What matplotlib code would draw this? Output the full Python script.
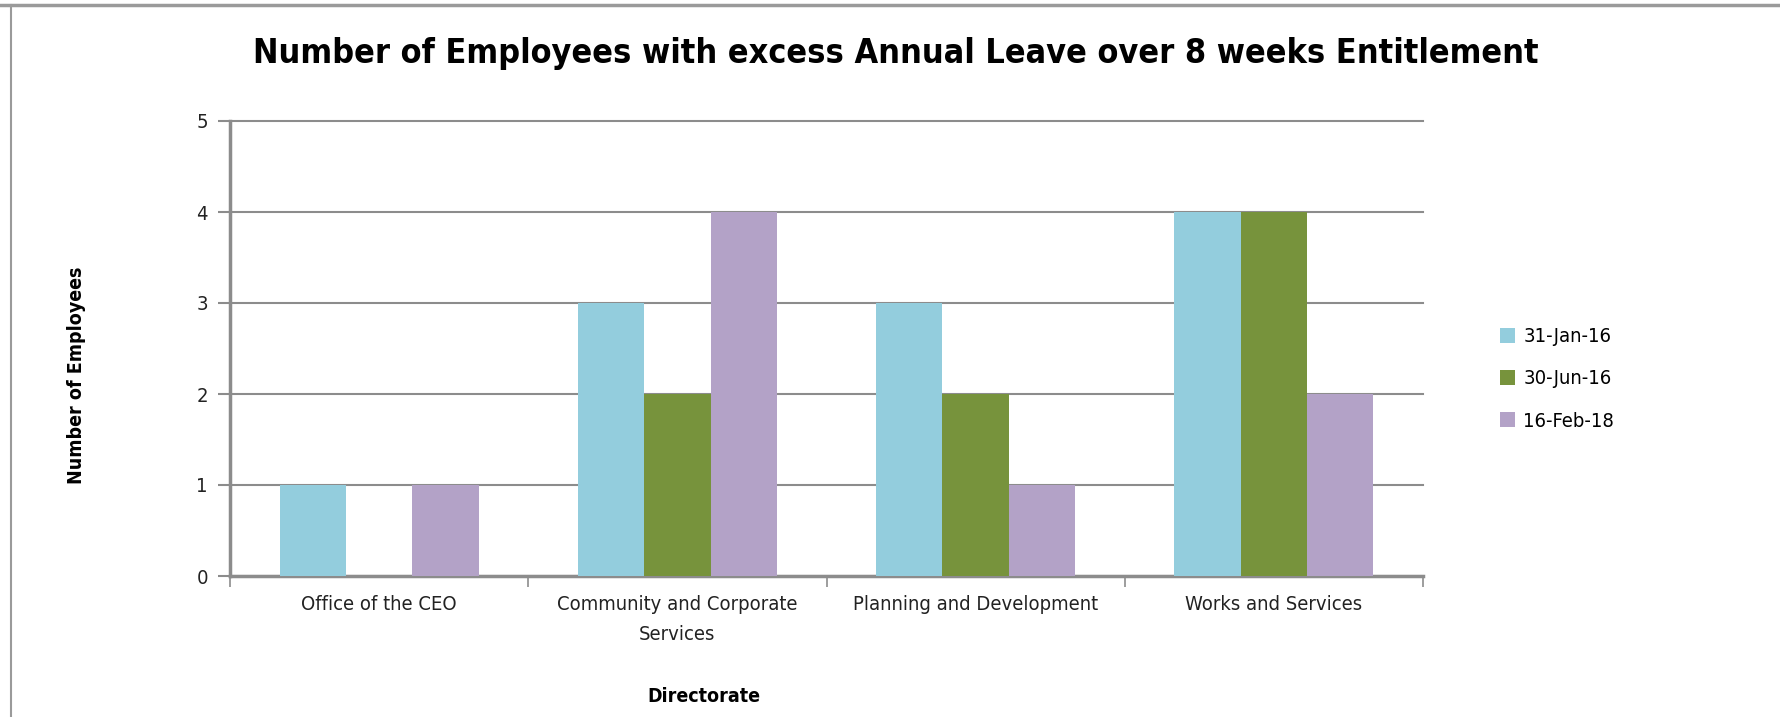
import numpy as np
import matplotlib.pyplot as plt
from matplotlib.lines import Line2D

# ---------------- Data ----------------
categories = ["Office of the CEO", "Community and Corporate\nServices",
              "Planning and Development", "Works and Services"]
series_names = ["31-Jan-16", "30-Jun-16", "16-Feb-18"]
jan16 = [1, 3, 3, 4]
jun16 = [0, 2, 2, 4]
feb18 = [1, 4, 1, 2]
colors = ["#93CDDD", "#77933C", "#B3A2C7"]

plt.rcParams['font.family'] = ["DejaVu Sans"]
plt.rcParams['font.stretch'] = 'condensed'

W, H = 1781, 717
fig = plt.figure(figsize=(W / 100, H / 100), dpi=100)
ax = fig.add_axes([230 / W, 1 - 576 / H, (1423 - 230) / W, (576 - 121) / H])

x = np.arange(len(categories))
bw = 1 / 4.5
for i, (vals, name, c) in enumerate(zip([jan16, jun16, feb18], series_names, colors)):
    ax.bar(x + (i - 1) * bw, vals, width=bw, color=c, label=name, zorder=3)

ax.set_xlim(-0.5, len(categories) - 0.5)
ax.set_ylim(0, 5)
ax.set_yticks(range(6))
ax.yaxis.grid(True, color="#8C8C8C", lw=1.5, zorder=0)
ax.set_axisbelow(True)
for gl in ax.yaxis.get_gridlines():
    gl.set_clip_on(False)

ax.set_xticks(x)
ax.set_xticklabels(categories, fontsize=14.5, color="#222222", linespacing=1.7)
ax.tick_params(axis='x', length=0, pad=14)
ax.set_xticks(np.arange(-0.5, len(categories)), minor=True)
ax.tick_params(axis='x', which='minor', length=8, color="#8C8C8C", width=1.2)
ax.tick_params(axis='y', length=9, color="#8C8C8C", width=1.5, labelsize=14.5,
               labelcolor="#222222", pad=7)

for s in ["top", "right"]:
    ax.spines[s].set_visible(False)
for s in ["left", "bottom"]:
    ax.spines[s].set_color("#8C8C8C")
    ax.spines[s].set_linewidth(2.5)

fig.text(77 / W, 1 - 375 / H, "Number of Employees", rotation=90, fontsize=14,
         fontweight="bold", ha="center", va="center")
fig.text(704 / W, 1 - 696 / H, "Directorate", fontsize=14, fontweight="bold",
         ha="center", va="center")
fig.text(896 / W, 1 - 53 / H,
         "Number of Employees with excess Annual Leave over 8 weeks Entitlement",
         fontsize=24.5, fontweight="bold", ha="center", va="center")

ax.legend(loc="center left", bbox_to_anchor=(1482 / W, 1 - 379 / H),
          bbox_transform=fig.transFigure, frameon=False, fontsize=14.5,
          handlelength=0.75, handleheight=0.75, handletextpad=0.4,
          labelspacing=1.15)

# chart frame (top and left edge)
fig.add_artist(Line2D([0, 1], [1 - 5 / H, 1 - 5 / H], color="#9A9A9A", lw=2.5,
                      transform=fig.transFigure))
fig.add_artist(Line2D([11 / W, 11 / W], [0, 1 - 5 / H], color="#9A9A9A", lw=1.5,
                      transform=fig.transFigure))

fig.savefig("out.png", dpi=100)
